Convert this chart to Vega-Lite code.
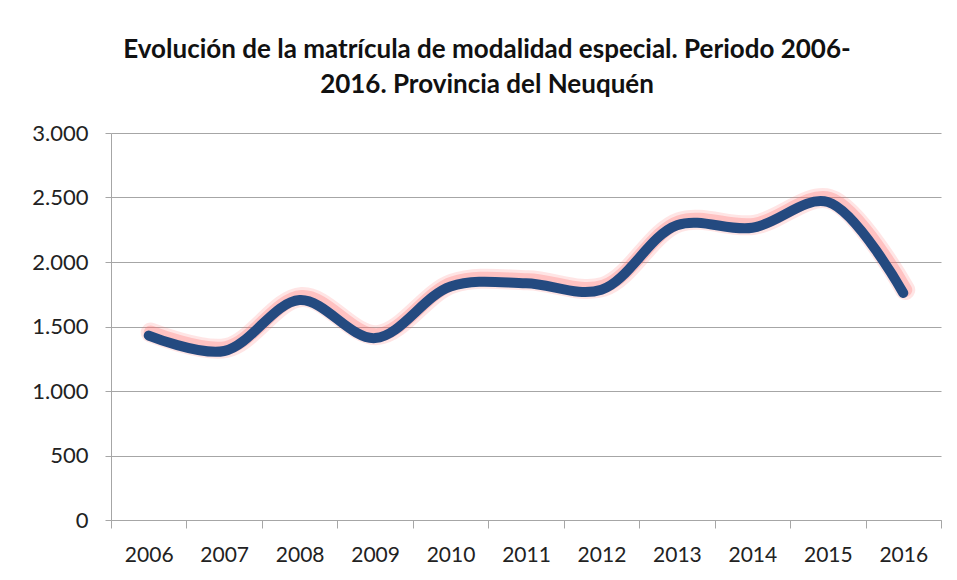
{
  "$schema": "https://vega.github.io/schema/vega-lite/v6.json",
  "autosize": "none",
  "width": 830,
  "height": 387,
  "padding": {"left": 111, "top": 133, "right": 16, "bottom": 60},
  "background": "white",
  "config": {
    "locale": {"number": {"decimal": ",", "thousands": ".", "grouping": [3], "currency": ["$", ""]}},
    "view": {"stroke": null},
    "font": "Lato"
  },
  "title": {
    "text": ["Evolución de la matrícula de modalidad especial. Periodo 2006-", "2016. Provincia del Neuquén"],
    "font": "Lato",
    "fontSize": 26,
    "fontWeight": "bold",
    "color": "#111111",
    "lineHeight": 35,
    "anchor": "middle",
    "dx": -39,
    "offset": 24
  },
  "data": {
    "values": [
      {"year": "2006", "value": 1430},
      {"year": "2007", "value": 1310},
      {"year": "2008", "value": 1705},
      {"year": "2009", "value": 1410},
      {"year": "2010", "value": 1810},
      {"year": "2011", "value": 1835},
      {"year": "2012", "value": 1785},
      {"year": "2013", "value": 2285},
      {"year": "2014", "value": 2265},
      {"year": "2015", "value": 2465},
      {"year": "2016", "value": 1760}
    ]
  },
  "encoding": {
    "x": {
      "field": "year",
      "type": "ordinal",
      "scale": {"paddingInner": 0, "paddingOuter": 0},
      "axis": {
        "title": null,
        "labelAngle": 0,
        "labelFont": "Lato",
        "labelFontSize": 21,
        "labelColor": "#222222",
        "labelPadding": 16,
        "tickBand": "extent",
        "tickSize": 8,
        "tickColor": "#a6a6a6",
        "domainColor": "#a6a6a6",
        "grid": false
      }
    },
    "y": {
      "field": "value",
      "type": "quantitative",
      "scale": {"domain": [0, 3000], "nice": false},
      "axis": {
        "title": null,
        "values": [0, 500, 1000, 1500, 2000, 2500, 3000],
        "format": ",d",
        "labelFont": "Lato",
        "labelFontSize": 22,
        "labelColor": "#222222",
        "labelPadding": 17,
        "tickSize": 6,
        "tickColor": "#a6a6a6",
        "domainColor": "#a6a6a6",
        "gridColor": "#a6a6a6",
        "gridWidth": 1.2
      }
    }
  },
  "layer": [
    {"mark": {"type": "line", "interpolate": "catmull-rom", "color": "#ff7070", "opacity": 0.18, "strokeWidth": 20, "strokeCap": "round", "xOffset": 2, "yOffset": -3}},
    {"mark": {"type": "line", "interpolate": "catmull-rom", "color": "#ff7070", "opacity": 0.3, "strokeWidth": 14, "strokeCap": "round", "xOffset": 2, "yOffset": -3}},
    {"mark": {"type": "line", "interpolate": "catmull-rom", "color": "#244a80", "strokeWidth": 10, "strokeCap": "round"}}
  ]
}
